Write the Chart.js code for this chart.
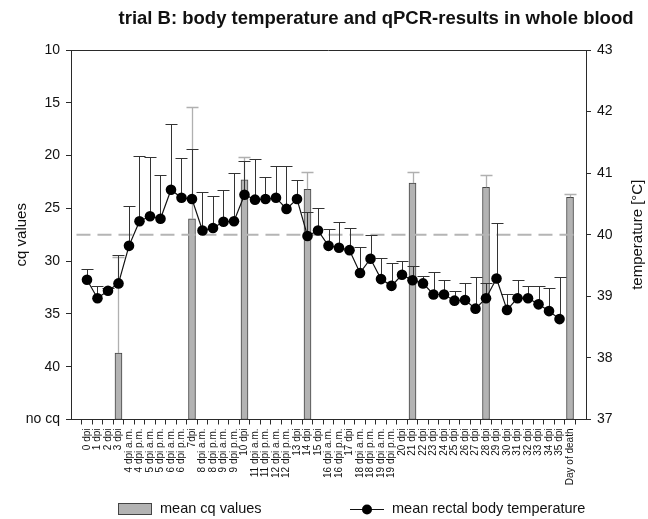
<!DOCTYPE html>
<html>
<head>
<meta charset="utf-8">
<script src="https://cdn.jsdelivr.net/npm/chart.js@4.4.1/dist/chart.umd.min.js"></script>
<style>
  html, body { margin: 0; padding: 0; background: #fff; }
  #wrap { width: 648px; height: 519px; position: relative; }
</style>
</head>
<body>
<div id="wrap"><canvas id="c" width="648" height="519"></canvas></div>
<script>
// ---------- data ----------
const categories = [
  '0 dpi','1 dpi','2 dpi','3 dpi','4 dpi a.m.','4 dpi p.m.','5 dpi a.m.','5 dpi p.m.',
  '6 dpi a.m.','6 dpi p.m.','7dpi','8 dpi a.m.','8 dpi p.m.','9 dpi a.m.','9 dpi p.m.',
  '10 dpi','11 dpi a.m.','11 dpi p.m.','12 dpi a.m.','12 dpi p.m.','13 dpi','14 dpi',
  '15 dpi','16 dpi a.m.','16 dpi p.m.','17 dpi','18 dpi a.m.','18 dpi p.m.','19 dpi a.m.',
  '19 dpi p.m.','20 dpi','21 dpi','22 dpi','23 dpi','24 dpi','25 dpi','26 dpi','27 dpi',
  '28 dpi','29 dpi','30 dpi','31 dpi','32 dpi','33 dpi','34 dpi','35 dpi','Day of death'
];
const tempMean = [
  39.27, 38.97, 39.09, 39.21, 39.82, 40.22, 40.30, 40.26, 40.73, 40.60, 40.58,
  40.07, 40.11, 40.21, 40.22, 40.65, 40.57, 40.58, 40.60, 40.42, 40.58, 39.98,
  40.07, 39.82, 39.79, 39.75, 39.38, 39.61, 39.28, 39.17, 39.35, 39.26, 39.21,
  39.03, 39.03, 38.93, 38.94, 38.80, 38.97, 39.29, 38.78, 38.97, 38.97, 38.87,
  38.76, 38.63, null
];
const tempErr = [
  0.17, 0.20, 0.05, 0.46, 0.65, 1.06, 0.97, 0.71, 1.07, 0.65, 0.81,
  0.63, 0.52, 0.52, 0.78, 0.54, 0.66, 0.35, 0.51, 0.70, 0.31, 0.39,
  0.36, 0.27, 0.41, 0.36, 0.42, 0.38, 0.35, 0.37, 0.23, 0.24, 0.12,
  0.37, 0.24, 0.15, 0.27, 0.51, 0.24, 0.90, 0.25, 0.30, 0.19, 0.29,
  0.38, 0.69, null
];
const cqMean = [
  null, null, null, 38.7, null, null, null, null, null, null, 26.0,
  null, null, null, null, 22.3, null, null, null, null, null, 23.2,
  null, null, null, null, null, null, null, null, null, 22.6, null,
  null, null, null, null, null, 23.0, null, null, null, null, null,
  null, null, 23.95
];
const cqErr = [
  null, null, null, 9.1, null, null, null, null, null, null, 10.6,
  null, null, null, null, 2.2, null, null, null, null, null, 1.6,
  null, null, null, null, null, null, null, null, null, 1.0, null,
  null, null, null, null, null, 1.2, null, null, null, null, null,
  null, null, 0.35
];
const cqTicks = [10, 15, 20, 25, 30, 35, 40, 45];
const cqTickLabels = ['10', '15', '20', '25', '30', '35', '40', 'no cq'];
const tempTicks = [37, 38, 39, 40, 41, 42, 43];
const thresholdTemp = 40;
const cqNone = 45;

// ---------- chart ----------
const FONT = "'Liberation Sans', Arial, sans-serif";
const AX = '#2a2a2a';

const barData = cqMean.map((v, i) => v == null ? null : { x: i, y: [cqNone, v] }).filter(d => d);
const lineData = tempMean.map((v, i) => ({ x: i, y: v }));
const n = categories.length;

const errorBars = {
  id: 'errorBars',
  beforeDatasetDraw(chart, args) {
    const ctx = chart.ctx, xs = chart.scales.x;
    if (args.index === 2) {
      const ys = chart.scales.y2;
      ctx.save();
      ctx.strokeStyle = '#333';
      ctx.lineWidth = 1;
      tempMean.forEach((v, i) => {
        if (v == null || tempErr[i] == null) return;
        const px = Math.round(xs.getPixelForValue(i)) + 0.5;
        const y0 = ys.getPixelForValue(v);
        const y1 = Math.round(ys.getPixelForValue(v + tempErr[i])) + 0.5;
        ctx.beginPath();
        ctx.moveTo(px, y0); ctx.lineTo(px, y1);
        ctx.moveTo(px - 6, y1); ctx.lineTo(px + 6, y1);
        ctx.stroke();
      });
      ctx.restore();
    }
  },
  afterDatasetDraw(chart, args) {
    const ctx = chart.ctx, xs = chart.scales.x;
    if (args.index === 0) {
      const ys = chart.scales.y;
      ctx.save();
      ctx.strokeStyle = '#b0b0b0';
      ctx.lineWidth = 1.3;
      cqMean.forEach((v, i) => {
        if (v == null) return;
        const px = Math.round(xs.getPixelForValue(i)) + 0.5;
        const y0 = ys.getPixelForValue(v);
        const y1 = Math.round(ys.getPixelForValue(v - cqErr[i])) + 0.5;
        ctx.beginPath();
        ctx.moveTo(px, y0); ctx.lineTo(px, y1);
        ctx.moveTo(px - 6, y1); ctx.lineTo(px + 6, y1);
        ctx.stroke();
      });
      ctx.restore();
    }
  }
};

const decorations = {
  id: 'decorations',
  afterDraw(chart) {
    const ctx = chart.ctx, a = chart.chartArea;
    ctx.save();
    // top frame line
    ctx.strokeStyle = AX; ctx.lineWidth = 1;
    ctx.beginPath();
    ctx.moveTo(a.left, Math.round(a.top) + 0.5);
    ctx.lineTo(a.right, Math.round(a.top) + 0.5);
    ctx.stroke();
    // title
    ctx.fillStyle = '#111';
    ctx.font = 'bold 18.5px ' + FONT;
    ctx.textAlign = 'center'; ctx.textBaseline = 'middle';
    ctx.fillText('trial B: body temperature and qPCR-results in whole blood', 376, 19);
    // axis titles
    ctx.font = '15px ' + FONT;
    ctx.save();
    ctx.translate(22, (a.top + a.bottom) / 2);
    ctx.rotate(-Math.PI / 2);
    ctx.fillText('cq values', 0, 0);
    ctx.restore();
    ctx.save();
    ctx.translate(638, (a.top + a.bottom) / 2);
    ctx.rotate(-Math.PI / 2);
    ctx.fillText('temperature [°C]', 0, 0);
    ctx.restore();
    // legend
    const ly = 509;
    ctx.fillStyle = '#b3b3b3';
    ctx.fillRect(118, ly - 6, 34, 12);
    ctx.strokeStyle = '#444';
    ctx.strokeRect(118.5, ly - 5.5, 33, 11);
    ctx.fillStyle = '#111';
    ctx.font = '14.5px ' + FONT;
    ctx.textAlign = 'left';
    ctx.fillText('mean cq values', 160, ly);
    ctx.strokeStyle = '#111'; ctx.lineWidth = 1.2;
    ctx.beginPath(); ctx.moveTo(350, ly + 0.5); ctx.lineTo(384, ly + 0.5); ctx.stroke();
    ctx.fillStyle = '#000';
    ctx.beginPath(); ctx.arc(367, ly + 0.5, 5, 0, Math.PI * 2); ctx.fill();
    ctx.fillStyle = '#111';
    ctx.fillText('mean rectal body temperature', 392, ly);
    ctx.restore();
  }
};

new Chart(document.getElementById('c'), {
  data: {
    datasets: [
      {
        type: 'bar',
        label: 'mean cq values',
        data: barData,
        yAxisID: 'y',
        xAxisID: 'x',
        backgroundColor: '#b3b3b3',
        borderColor: '#444',
        borderWidth: 1,
        borderSkipped: false,
        barThickness: 7,
        order: 3
      },
      {
        type: 'line',
        label: 'threshold',
        data: [{ x: -1, y: thresholdTemp }, { x: n, y: thresholdTemp }],
        yAxisID: 'y2',
        borderColor: '#b5b5b5',
        borderWidth: 2,
        borderDash: [14, 7],
        pointRadius: 0,
        order: 2
      },
      {
        type: 'line',
        label: 'mean rectal body temperature',
        data: lineData,
        yAxisID: 'y2',
        borderColor: '#111',
        borderWidth: 1.2,
        pointRadius: 5.3,
        pointBackgroundColor: '#000',
        pointBorderColor: '#000',
        pointBorderWidth: 0,
        tension: 0,
        spanGaps: false,
        order: 1
      }
    ]
  },
  options: {
    responsive: false,
    animation: false,
    devicePixelRatio: 1,
    layout: { padding: { top: 50, left: 0, right: 0, bottom: 0 } },
    plugins: { legend: { display: false }, tooltip: { enabled: false }, title: { display: false } },
    scales: {
      x: {
        type: 'linear',
        position: 'bottom',
        min: -1,
        max: n,
        afterBuildTicks(scale) {
          scale.ticks = categories.map((c, i) => ({ value: i }));
        },
        afterFit(scale) { scale.height = 99.5; },
        ticks: {
          autoSkip: false,
          maxRotation: 90,
          minRotation: 90,
          padding: 4,
          color: '#111',
          font: { family: FONT, size: 10 },
          callback: (v) => categories[v] ?? ''
        },
        grid: { drawOnChartArea: false, drawTicks: true, tickLength: 5, color: AX },
        border: { display: true, color: AX, width: 1 }
      },
      y: {
        type: 'linear',
        position: 'left',
        reverse: true,
        min: 10,
        max: cqNone,
        afterBuildTicks(scale) { scale.ticks = cqTicks.map(v => ({ value: v })); },
        afterFit(scale) { scale.width = 71; },
        ticks: {
          padding: 6,
          color: '#111',
          font: { family: FONT, size: 14 },
          callback: (v) => cqTickLabels[cqTicks.indexOf(v)]
        },
        grid: { drawOnChartArea: false, drawTicks: true, tickLength: 5, color: AX },
        border: { display: true, color: AX, width: 1 }
      },
      y2: {
        type: 'linear',
        position: 'right',
        min: 37,
        max: 43,
        afterBuildTicks(scale) { scale.ticks = tempTicks.map(v => ({ value: v })); },
        afterFit(scale) { scale.width = 62; },
        ticks: {
          padding: 6,
          color: '#111',
          font: { family: FONT, size: 14 }
        },
        grid: { drawOnChartArea: false, drawTicks: true, tickLength: 5, color: AX },
        border: { display: true, color: AX, width: 1 }
      }
    }
  },
  plugins: [errorBars, decorations]
});
</script>
</body>
</html>
